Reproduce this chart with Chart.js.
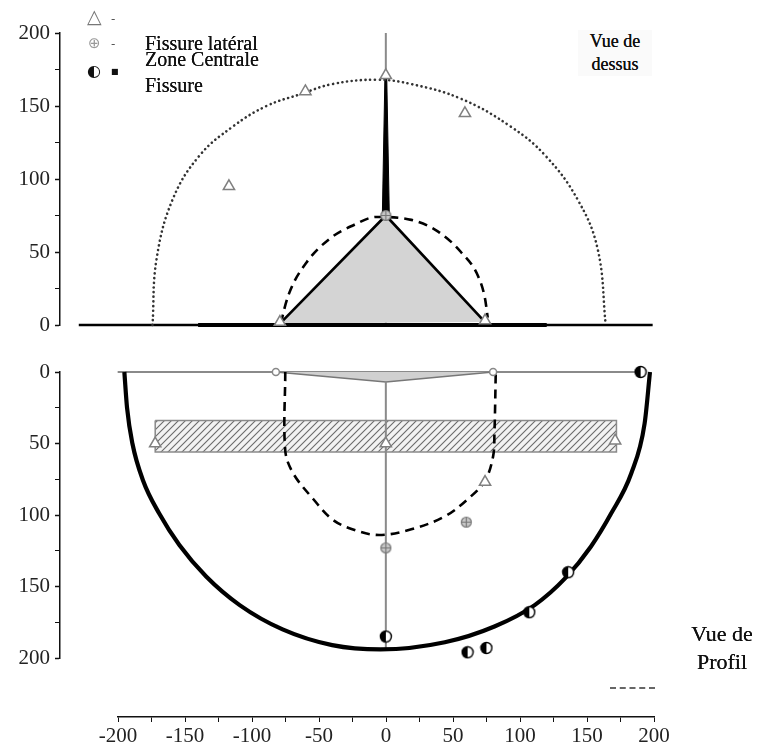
<!DOCTYPE html>
<html><head><meta charset="utf-8">
<script src="https://cdn.jsdelivr.net/npm/chart.js@4.4.1/dist/chart.umd.min.js"></script>
<style>
html,body{margin:0;padding:0;background:#fff;}
#wrap{position:relative;width:758px;height:749px;overflow:hidden;background:#fff;}
canvas{position:absolute;left:0;}
.t{position:absolute;font-family:"Liberation Serif","Times New Roman",serif;color:#111;white-space:nowrap;line-height:1;text-shadow:0 0 0.5px #000;}
.s{position:absolute;font-family:"DejaVu Sans",sans-serif;line-height:1;white-space:nowrap;}
</style></head><body>
<div id="wrap">
<canvas id="cTop" width="758" height="345" style="top:0px"></canvas>
<canvas id="cProf" width="758" height="340" style="top:340px"></canvas>
<canvas id="cAxis" width="758" height="69" style="top:680px"></canvas>

<div class="s" style="left:87px;top:7px;font-size:19px;color:#777;">△</div>
<div class="s" style="left:111px;top:13px;font-size:12px;color:#555;">-</div>
<div class="s" style="left:88px;top:36px;font-size:15px;color:#999;">⊕</div>
<div class="s" style="left:111px;top:38px;font-size:12px;color:#555;">-</div>
<div class="s" style="left:87px;top:63px;font-size:16px;color:#111;">◐</div>
<div class="s" style="left:111px;top:68px;font-size:8px;color:#111;">■</div>

<div class="t" style="left:145px;top:33px;font-size:20px;">Fissure latéral</div>
<div class="t" style="left:145px;top:49px;font-size:20px;">Zone Centrale</div>
<div class="t" style="left:145px;top:75px;font-size:20px;">Fissure</div>

<div class="t" style="left:578px;top:30px;width:74px;text-align:center;font-size:18px;line-height:23px;background:#fafafa;">Vue de<br>dessus</div>
<div class="t" style="left:684px;top:620px;width:76px;text-align:center;font-size:22px;line-height:28px;">Vue de<br>Profil</div>
<div style="position:absolute;left:610px;top:687px;width:45px;border-top:2px dashed #666;"></div>

<script>
// ---------------- Vue de dessus (top panel) ----------------
const yTickLabels = [0, 50, 100, 150, 200];
const xTickLabels = [-200, -150, -100, -50, 0, 50, 100, 150, 200];

const latTopX = [-117, -60, 59, 0, -79, 74];
const latTopY = [95, 160, 145, 171, 2, 3];
const centreTopX = [0];
const centreTopY = [75];
const dottedArcX = [-174, -171, -159, -139, -114, -89, -64, -40, -7, 19, 56, 93, 119, 143, 158, 164];
const dottedArcY = [0, 45, 86, 116, 136, 150, 158, 165, 168, 165, 155, 136, 116, 86, 52, 0];
const dashedTopX = [-78, -77, -72, -59, -42, -25, -7, 19, 39, 56, 69, 74, 76];
const dashedTopY = [1, 6, 22, 43, 59, 68, 74, 72, 64, 50, 33, 18, 5];
const coneX = [-79, 0, 74];
const coneY = [1, 75, 2];
const spikeX = [-2.6, -0.7, 0.7, 2.6];
const spikeY = [75, 169, 169, 75];
const baseX = [-229, 199];
const baseY = [0, 0];
const baseThickX = [-140, 120];
const baseThickY = [0, 0];
const axisTopX = [0, 0];
const axisTopY = [0, 200];

// ---------------- Vue de profil (bottom panel) ----------------
const surfX = [-200, 190];
const surfY = [0, 0];
const lensX = [-82, 0, 80];
const lensY = [0, 7, 0];
const bandX = [-172, 172, 172, -172, -172];
const bandY = [34, 34, 56, 56, 34];
const dashedProfX = [-75, -75, -69, -54, -40, -25, -5, 19, 44, 61, 74, 80, 81, 82];
const dashedProfY = [0, 55, 71, 89, 103, 110, 114, 110, 101, 89, 76, 59, 43, 0];
const bowlX = [-195, -193, -189, -181, -169, -154, -134, -109, -77, -40, -4, 44, 81, 111, 134, 153, 168, 183, 193, 197];
const bowlY = [0, 25, 50, 76, 99, 121, 143, 163, 180, 191, 194, 189, 178, 163, 144, 122, 99, 71, 36, 0];
const axisProfX = [0, 0];
const axisProfY = [7, 194];
const fisProfX = [190, 0, 61, 75, 107, 136];
const fisProfY = [0, 185, 196, 193, 168, 140];
const centreProfX = [0, 60];
const centreProfY = [123, 105];
const latProfX = [-172, 171, 0, 74];
const latProfY = [50, 48, 50, 77];
const ringX = [-82, 80];
const ringY = [0, 0];

const pts = (xs, ys) => xs.map((x, i) => ({x: x, y: ys[i]}));

// marker images
function halfCircle() {
  const c = document.createElement('canvas'); c.width = 14; c.height = 14;
  const g = c.getContext('2d');
  g.beginPath(); g.arc(7, 7, 5.5, 0, Math.PI * 2); g.fillStyle = '#fff'; g.fill();
  g.beginPath(); g.arc(7, 7, 5.5, Math.PI / 2, Math.PI * 1.5); g.closePath(); g.fillStyle = '#000'; g.fill();
  g.beginPath(); g.arc(7, 7, 5.5, 0, Math.PI * 2); g.lineWidth = 1.4; g.strokeStyle = '#000'; g.stroke();
  return c;
}
function crossCircle() {
  const c = document.createElement('canvas'); c.width = 13; c.height = 13;
  const g = c.getContext('2d');
  g.beginPath(); g.arc(6.5, 6.5, 5, 0, Math.PI * 2); g.fillStyle = '#c8c8c8'; g.fill();
  g.lineWidth = 1.2; g.strokeStyle = '#777'; g.stroke();
  g.beginPath(); g.moveTo(1.5, 6.5); g.lineTo(11.5, 6.5); g.moveTo(6.5, 1.5); g.lineTo(6.5, 11.5); g.stroke();
  return c;
}
function hatch() {
  const c = document.createElement('canvas'); c.width = 7; c.height = 7;
  const g = c.getContext('2d');
  g.fillStyle = '#f2f2f2'; g.fillRect(0, 0, 7, 7);
  g.strokeStyle = '#6a6a6a'; g.lineWidth = 1.1;
  g.beginPath(); g.moveTo(0, 7); g.lineTo(7, 0);
  g.moveTo(-1, 1); g.lineTo(1, -1); g.moveTo(6, 8); g.lineTo(8, 6); g.stroke();
  return g.createPattern(c, 'repeat');
}
const imgHalf = halfCircle();
const imgCross = crossCircle();
const hatchPat = hatch();

const serif = {family: '"Liberation Serif", "Times New Roman", serif', size: 21};

function yAxis(reverse) {
  return {
    type: 'linear', min: 0, max: 200, reverse: reverse,
    afterFit: s => { s.width = 60; },
    ticks: {stepSize: 25, font: serif, color: '#222', padding: 5,
      callback: v => yTickLabels.includes(v) ? String(v) : ''},
    grid: {drawOnChartArea: false, tickLength: 5, color: '#111',
      tickWidth: c => (c.tick && yTickLabels.includes(c.tick.value)) ? 1.5 : 1},
    border: {display: true, color: '#111', width: 1.5}
  };
}
const xHidden = {type: 'linear', min: -243, max: 200, display: false};

const line = (data, o) => Object.assign({data: data, showLine: true, pointRadius: 0, tension: 0, fill: false, clip: false, borderColor: '#000', borderWidth: 2}, o);
const marks = (data, o) => Object.assign({data: data, showLine: false, clip: false, pointRadius: 6, pointHoverRadius: 6}, o);

const common = {
  responsive: false, animation: false, devicePixelRatio: 1,
  plugins: {legend: {display: false}, tooltip: {enabled: false}},
  events: []
};

new Chart(document.getElementById('cTop'), {
  type: 'line',
  data: {datasets: [
    marks(pts(latTopX, latTopY), {pointStyle: 'triangle', pointRadius: 6.5, borderColor: '#808080', backgroundColor: '#fff', borderWidth: 1.5}),
    marks(pts(centreTopX, centreTopY), {pointStyle: imgCross}),
    line(pts(dashedTopX, dashedTopY), {borderDash: [9, 6], borderWidth: 2.6, cubicInterpolationMode: 'monotone'}),
    line(pts(dottedArcX, dottedArcY), {borderDash: [0.1, 4.6], borderCapStyle: 'round', borderWidth: 2.6, borderColor: '#333', tension: 0.4}),
    line(pts(spikeX, spikeY), {fill: 'shape', backgroundColor: '#000', borderWidth: 1}),
    line(pts(baseThickX, baseThickY), {borderWidth: 4}),
    line(pts(baseX, baseY), {borderWidth: 2.5}),
    line(pts(coneX, coneY), {fill: 'shape', backgroundColor: '#d4d4d4', borderWidth: 2.6}),
    line(pts(axisTopX, axisTopY), {borderColor: '#8a8a8a', borderWidth: 2})
  ]},
  options: Object.assign({}, common, {
    layout: {padding: {left: 0, right: 104, top: 33, bottom: 20}},
    scales: {x: xHidden, y: yAxis(false)}
  })
});

new Chart(document.getElementById('cProf'), {
  type: 'line',
  data: {datasets: [
    marks(pts(fisProfX, fisProfY), {pointStyle: imgHalf}),
    marks(pts(centreProfX, centreProfY), {pointStyle: imgCross}),
    marks(pts(latProfX, latProfY), {pointStyle: 'triangle', pointRadius: 6.5, borderColor: '#808080', backgroundColor: '#fff', borderWidth: 1.5}),
    marks(pts(ringX, ringY), {pointStyle: 'circle', pointRadius: 3.5, borderColor: '#888', backgroundColor: '#fff', borderWidth: 1.5}),
    line(pts(dashedProfX, dashedProfY), {borderDash: [9, 6], borderWidth: 2.6, tension: 0.35}),
    line(pts(bowlX, bowlY), {borderWidth: 4.2, cubicInterpolationMode: 'monotone'}),
    line(pts(axisProfX, axisProfY), {borderColor: '#8a8a8a', borderWidth: 2}),
    line(pts(bandX, bandY), {fill: 'shape', backgroundColor: hatchPat, borderColor: '#8a8a8a', borderWidth: 1.5}),
    line(pts(lensX, lensY), {fill: 'shape', backgroundColor: '#d0d0d0', borderColor: '#777', borderWidth: 1.5}),
    line(pts(surfX, surfY), {borderColor: '#8a8a8a', borderWidth: 2.2})
  ]},
  options: Object.assign({}, common, {
    layout: {padding: {left: 0, right: 104, top: 32, bottom: 22}},
    scales: {x: xHidden, y: yAxis(true)}
  })
});

new Chart(document.getElementById('cAxis'), {
  type: 'line',
  data: {datasets: []},
  options: Object.assign({}, common, {
    layout: {padding: {left: 118, right: 104, top: 5, bottom: 0}},
    scales: {
      x: {type: 'linear', min: xTickLabels[0], max: xTickLabels[xTickLabels.length - 1], position: 'bottom',
        afterFit: s => { s.height = 32; },
        ticks: {stepSize: 25, font: serif, color: '#222', padding: 2, maxRotation: 0, autoSkip: false,
          callback: v => xTickLabels.includes(v) ? String(v) : ''},
        grid: {drawOnChartArea: false, tickLength: 5, color: '#111'},
        border: {display: true, color: '#111', width: 1.5}},
      y: {type: 'linear', min: 0, max: 1, display: false}
    }
  })
});
</script>
</div>
</body></html>
